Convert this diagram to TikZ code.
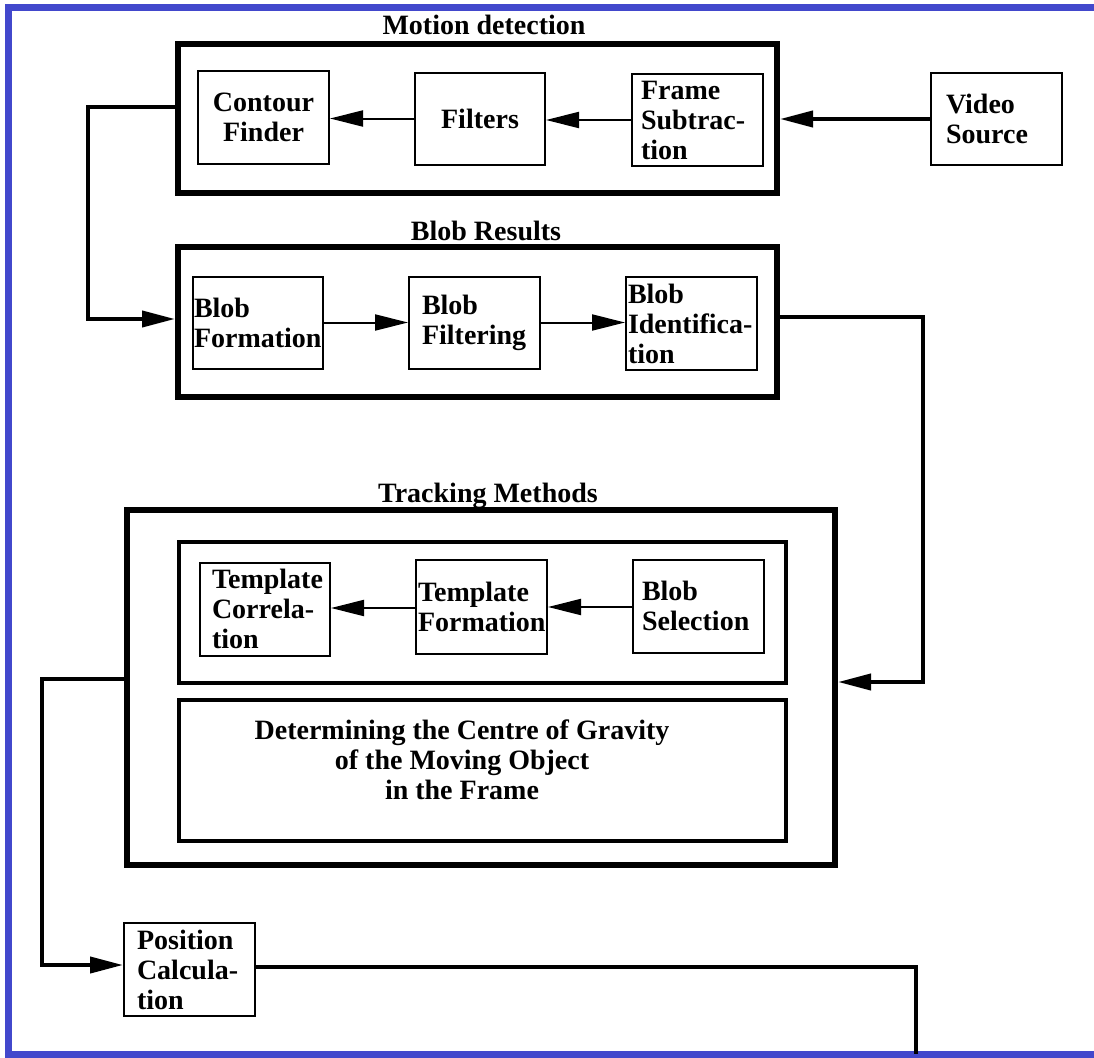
\documentclass[tikz,border=0pt]{standalone}
\usepackage{fontspec}
\setmainfont{Liberation Serif}
\usetikzlibrary{arrows.meta}
\definecolor{frameblue}{RGB}{66,72,204}
\begin{document}
\begin{tikzpicture}[x=1pt,y=-1pt,
  txt/.style={font=\bfseries\fontsize{28}{30}\selectfont},
  box/.style={txt, draw, line width=2pt, inner sep=0pt, minimum width=131pt, minimum height=93pt},
  bigframe/.style={draw, line width=6pt, inner sep=0pt},
  subframe/.style={draw, line width=4pt, inner sep=0pt},
  title/.style={txt, anchor=base, inner sep=0pt},
  tip/.style={-{Triangle[length=33pt,width=16pt]}},
  flow/.style={line width=2pt, tip},
  link/.style={line width=4pt},
]
\useasboundingbox (0,0) rectangle (1094,1057);
\draw[frameblue, line width=7pt] (1094,8) -- (8,8) -- (8,1054) -- (1094,1054);

% Motion detection
\node[bigframe, minimum width=599pt, minimum height=149pt] (md) at (477.5,118.5) {};
\node[title] (mdt) at (484,35) {Motion detection};
\node[box, align=center] (cf) at (263.5,117.5) {Contour\\Finder};
\node[box, minimum width=130pt, minimum height=92pt] (fil) at (480,118.5) {Filters};
\node[box, minimum height=92pt, align=left, text width=113pt] (fs) at (697.5,120) {Frame\\Subtrac-\\tion};
\node[box, minimum height=92pt, align=left, text width=101pt] (vs) at (996.5,119) {Video\\Source};
\draw[link, tip] (vs.west) -- (vs.west -| md.east);
\draw[flow] (fs.west) -- (fs.west -| fil.east);
\draw[flow] (fil.west) -- (fil.west -| cf.east);

% Blob results
\node[bigframe, minimum width=599pt, minimum height=150pt] (br) at (477.5,322) {};
\node[title] (brt) at (486,240) {Blob Results};
\node[box, minimum width=130pt, minimum height=92pt, align=left, text width=128pt] (bf) at (258,322.5) {Blob\\Formation};
\node[box, minimum height=92pt, align=left, text width=105pt] (bfl) at (474.5,322.5) {Blob\\Filtering};
\node[box, align=left, text width=127pt] (bi) at (691.5,323.5) {Blob\\Identifica-\\tion};
\draw[flow] (bf.east) -- (bfl.west);
\draw[flow] (bfl.east) -- (bfl.east -| bi.west);

\coordinate (j1) at (88,319);
\draw[link, tip] ([yshift=11.5pt]md.west) -| (j1) -- (j1 -| br.west);

% Tracking methods
\node[bigframe, minimum width=708pt, minimum height=355pt] (tm) at (481,687.5) {};
\node[title] (tmt) at (488,502) {Tracking Methods};
\node[subframe, minimum width=607pt, minimum height=141pt] (tu) at (482.5,612.5) {};
\node[subframe, minimum width=607pt, minimum height=141pt] (tl) at (482.5,770.5) {};
\node[box, minimum width=130pt, align=left, text width=106pt] (tc) at (265,609) {Template\\Correla-\\tion};
\node[box, minimum height=94pt, align=left, text width=127pt] (tf) at (481.5,607) {Template\\Formation};
\node[box, align=left, text width=113pt] (bs) at (698.5,606) {Blob\\Selection};
\node[txt, align=center] (cog) at (462,760) {Determining the Centre of Gravity\\of the Moving Object\\in the Frame};
\draw[flow] ([yshift=-1pt]bs.west) -- ([yshift=-1pt]bs.west -| tf.east);
\draw[flow] ([yshift=-1pt]tf.west) -- ([yshift=-1pt]tf.west -| tc.east);

\coordinate (j2) at (923,682);
\draw[link, tip] ([yshift=5pt]br.east) -| (j2) -- (j2 -| tm.east);

% Position calculation
\node[box, align=left, text width=105pt] (pc) at (189.5,969.5) {Position\\Calcula-\\tion};
\coordinate (j3) at (42,965);
\draw[link, tip] ([yshift=8.5pt]tm.west) -| (j3) -- (j3 -| pc.west);
\coordinate (j4) at (916,967);
\coordinate (e1) at (916,1054);
\draw[link] (pc.east |- j4) -- (j4) -- (e1);
\end{tikzpicture}
\end{document}
